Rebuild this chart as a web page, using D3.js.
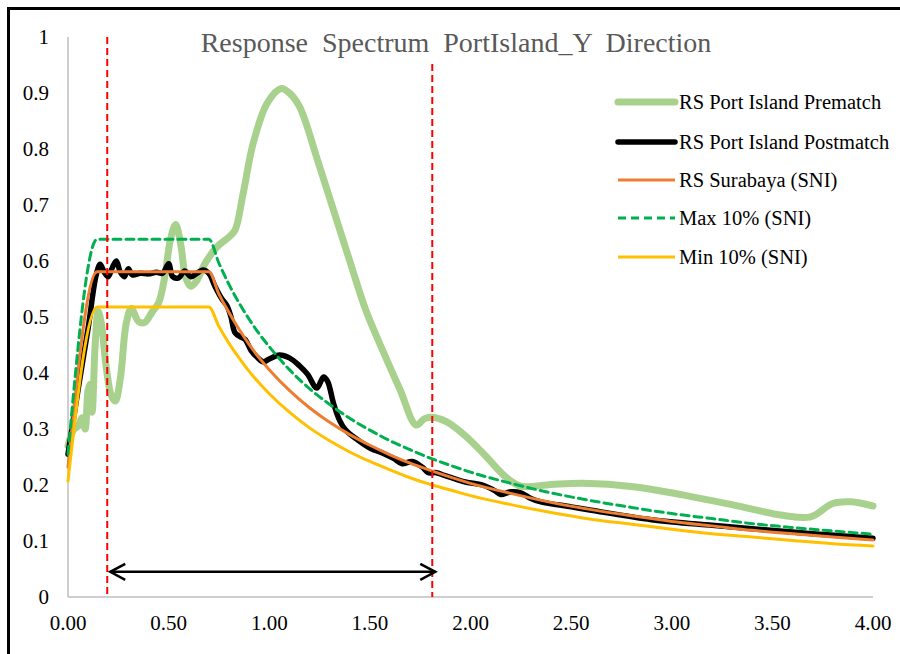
<!DOCTYPE html>
<html><head><meta charset="utf-8">
<script src="https://cdn.jsdelivr.net/npm/d3@7"></script>
<style>body{margin:0;background:#fff}svg{display:block}text{font-family:"Liberation Serif","Times New Roman",Times,serif}</style>
</head><body>
<svg id="c" width="900" height="654"></svg>
<script>
const title = "Response  Spectrum  PortIsland_Y  Direction";
const xTickValues = [0,0.5,1,1.5,2,2.5,3,3.5,4];
const xTickLabels = ["0.00","0.50","1.00","1.50","2.00","2.50","3.00","3.50","4.00"];
const yTickValues = [0,0.1,0.2,0.3,0.4,0.5,0.6,0.7,0.8,0.9,1];
const yTickLabels = ["0","0.1","0.2","0.3","0.4","0.5","0.6","0.7","0.8","0.9","1"];
const seriesNames = ["RS Port Island Prematch","RS Port Island Postmatch","RS Surabaya (SNI)","Max 10% (SNI)","Min 10% (SNI)"];

const prematch = [[0,0.27],[0.03,0.30],[0.05,0.305],[0.07,0.32],[0.085,0.30],[0.1,0.37],[0.11,0.38],[0.12,0.33],[0.135,0.45],[0.15,0.51],[0.165,0.49],[0.19,0.41],[0.215,0.36],[0.235,0.35],[0.26,0.39],[0.29,0.49],[0.315,0.515],[0.35,0.492],[0.38,0.49],[0.42,0.51],[0.45,0.525],[0.48,0.57],[0.51,0.64],[0.535,0.665],[0.56,0.63],[0.585,0.57],[0.61,0.555],[0.64,0.565],[0.68,0.595],[0.74,0.625],[0.8,0.643],[0.83,0.655],[0.87,0.72],[0.92,0.81],[0.99,0.882],[1.06,0.908],[1.1,0.9],[1.15,0.876],[1.24,0.78],[1.32,0.69],[1.40,0.60],[1.48,0.512],[1.57,0.435],[1.65,0.37],[1.73,0.307],[1.77,0.318],[1.81,0.321],[1.88,0.313],[1.98,0.286],[2.08,0.25],[2.17,0.216],[2.25,0.198],[2.4,0.201],[2.56,0.203],[2.81,0.197],[3.06,0.182],[3.31,0.164],[3.55,0.146],[3.69,0.143],[3.8,0.167],[3.89,0.17],[4.0,0.1625]];

const postmatch = [[0,0.255],[0.05,0.37],[0.1,0.48],[0.14,0.575],[0.16,0.594],[0.18,0.58],[0.2,0.572],[0.22,0.588],[0.24,0.6],[0.26,0.58],[0.28,0.572],[0.3,0.586],[0.32,0.575],[0.36,0.578],[0.4,0.577],[0.44,0.58],[0.47,0.578],[0.5,0.595],[0.52,0.572],[0.55,0.57],[0.58,0.582],[0.61,0.572],[0.64,0.578],[0.67,0.584],[0.7,0.578],[0.73,0.555],[0.765,0.532],[0.79,0.52],[0.81,0.5],[0.83,0.472],[0.86,0.464],[0.88,0.46],[0.91,0.44],[0.94,0.428],[0.97,0.42],[1.0,0.425],[1.05,0.432],[1.1,0.427],[1.15,0.413],[1.19,0.398],[1.236,0.373],[1.27,0.393],[1.29,0.385],[1.32,0.345],[1.35,0.315],[1.38,0.298],[1.43,0.283],[1.5,0.266],[1.57,0.256],[1.62,0.247],[1.66,0.238],[1.71,0.242],[1.76,0.232],[1.79,0.222],[1.83,0.222],[1.87,0.217],[1.93,0.21],[1.98,0.205],[2.06,0.2],[2.12,0.19],[2.15,0.183],[2.2,0.188],[2.25,0.186],[2.3,0.176],[2.35,0.17],[2.5,0.161],[2.6,0.155],[2.9,0.138],[3.2,0.128],[3.4,0.122],[3.7,0.113],[4.0,0.105]];

const designT = [0,0.145,0.7,0.75,0.8,0.85,0.9,0.95,1.0,1.1,1.2,1.3,1.4,1.5,1.6,1.7,1.8,1.9,2.0,2.2,2.4,2.6,2.8,3.0,3.2,3.4,3.6,3.8,4.0];
const surabaya = [0.232,0.581,0.581,0.541,0.508,0.478,0.451,0.427,0.406,0.369,0.338,0.312,0.29,0.271,0.254,0.239,0.226,0.214,0.203,0.185,0.169,0.156,0.145,0.135,0.127,0.119,0.113,0.107,0.102];
const max10 = [0.255,0.639,0.639,0.596,0.558,0.525,0.496,0.47,0.447,0.406,0.372,0.344,0.319,0.298,0.279,0.263,0.248,0.235,0.223,0.203,0.186,0.172,0.16,0.149,0.14,0.131,0.124,0.118,0.112];
const min10 = [0.207,0.518,0.518,0.483,0.453,0.427,0.403,0.382,0.363,0.33,0.302,0.279,0.259,0.242,0.227,0.213,0.201,0.191,0.181,0.165,0.151,0.139,0.13,0.121,0.113,0.107,0.101,0.095,0.091];

const markerT = [0.195, 1.81];
const arrowY = 0.045;

const svg = d3.select("#c");
const x = d3.scaleLinear().domain([0,4]).range([68,873]);
const y = d3.scaleLinear().domain([0,1]).range([597,37]);

// frame
svg.append("rect").attr("x",8.5).attr("y",8.5).attr("width",900).attr("height",700)
  .attr("fill","none").attr("stroke","#000").attr("stroke-width",3);

// axes lines
svg.append("line").attr("x1",x(0)).attr("x2",x(0)).attr("y1",y(1)).attr("y2",y(0)).attr("stroke","#bfbfbf").attr("stroke-width",1.5);
svg.append("line").attr("x1",x(0)).attr("x2",x(4)).attr("y1",y(0)).attr("y2",y(0)).attr("stroke","#bfbfbf").attr("stroke-width",1.5);

// tick labels
svg.selectAll(".yt").data(yTickValues).enter().append("text")
  .attr("x",49).attr("y",d=>y(d)+7).attr("text-anchor","end")
  .attr("font-size",21).attr("fill","#000")
  .text((d,i)=>yTickLabels[i]);
svg.selectAll(".xt").data(xTickValues).enter().append("text")
  .attr("x",d=>x(d)).attr("y",630).attr("text-anchor","middle")
  .attr("font-size",21).attr("fill","#000")
  .text((d,i)=>xTickLabels[i]);

// title
svg.append("text").attr("x",456).attr("y",52).attr("text-anchor","middle")
  .attr("font-size",28).attr("fill","#595959")
  .style("white-space","pre").text(title);

const smooth = d3.line().x(d=>x(d[0])).y(d=>y(d[1])).curve(d3.curveCatmullRom.alpha(0.5));
const mono = d3.line().x(d=>x(d[0])).y(d=>y(d[1])).curve(d3.curveMonotoneX);

const styles = [
  {c:"#a9d18e", w:7, dash:null},
  {c:"#000000", w:5.5, dash:null},
  {c:"#ed7d31", w:3, dash:null},
  {c:"#00b050", w:3, dash:"8,5"},
  {c:"#ffc000", w:3, dash:null}
];

const data = [prematch, postmatch,
  designT.map((t,i)=>[t,surabaya[i]]),
  designT.map((t,i)=>[t,max10[i]]),
  designT.map((t,i)=>[t,min10[i]])];

data.forEach((d,i)=>{
  svg.append("path").attr("d",(i<2?smooth:mono)(d)).attr("fill","none")
    .attr("stroke",styles[i].c).attr("stroke-width",styles[i].w)
    .attr("stroke-linejoin","round").attr("stroke-linecap","round")
    .attr("stroke-dasharray",styles[i].dash);
});

// red dashed markers
markerT.forEach((t,i)=>{
  svg.append("line").attr("x1",x(t)).attr("x2",x(t)).attr("y1",i===0?y(1):64).attr("y2",y(0))
    .attr("stroke","#ff0000").attr("stroke-width",2).attr("stroke-dasharray","7,4");
});

// double arrow
const ay = y(arrowY), ax1 = x(markerT[0])+3, ax2 = x(markerT[1])+3;
svg.append("line").attr("x1",ax1).attr("x2",ax2).attr("y1",ay).attr("y2",ay).attr("stroke","#000").attr("stroke-width",2.5);
svg.append("path").attr("d",`M${ax1+15},${ay-8}L${ax1},${ay}L${ax1+15},${ay+8}`).attr("fill","none").attr("stroke","#000").attr("stroke-width",2.5);
svg.append("path").attr("d",`M${ax2-15},${ay-8}L${ax2},${ay}L${ax2-15},${ay+8}`).attr("fill","none").attr("stroke","#000").attr("stroke-width",2.5);

// legend
const legY = [102,142,180,218,257];
seriesNames.forEach((n,i)=>{
  svg.append("line").attr("x1",618).attr("x2",675).attr("y1",legY[i]).attr("y2",legY[i])
    .attr("stroke",styles[i].c).attr("stroke-width",styles[i].w)
    .attr("stroke-dasharray",styles[i].dash).attr("stroke-linecap",i<2?"round":"butt");
  svg.append("text").attr("x",679).attr("y",legY[i]+7)
    .attr("font-size",20.5).attr("fill","#000").text(n);
});
</script>
</body></html>
